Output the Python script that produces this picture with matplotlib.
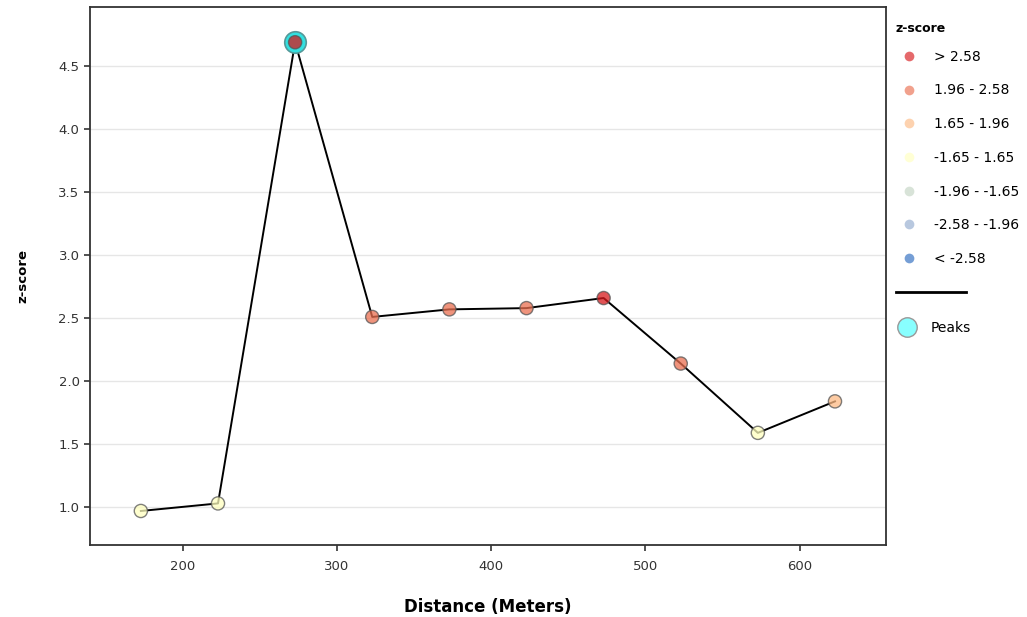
import matplotlib.pyplot as plt
from matplotlib.lines import Line2D

# distance along the transect and z-score at each step
DIST   = [173, 223, 273, 323, 373, 423, 473, 523, 573, 623]
ZSCORE = [0.97, 1.03, 4.69, 2.51, 2.57, 2.58, 2.66, 2.14, 1.59, 1.84]
PEAKS  = [273]

CLASS_LABELS = ["> 2.58", "1.96 - 2.58", "1.65 - 1.96", "-1.65 - 1.65",
                "-1.96 - -1.65", "-2.58 - -1.96", "< -2.58"]
CLASS_COLORS = ["#d7191c", "#ea6f50", "#fdba84", "#ffffbf",
                "#c4d4c4", "#92abcf", "#2c6bbf"]
CLASS_EDGES  = [2.58, 1.96, 1.65, -1.65, -1.96, -2.58]


def zclass(z):
    for i, edge in enumerate(CLASS_EDGES):
        if z > edge:
            return i
    return len(CLASS_EDGES)


fig = plt.figure(figsize=(10.27, 6.17), dpi=100)
ax = fig.add_axes([0.0876, 0.1167, 0.775, 0.872])

ax.plot(DIST, ZSCORE, color="black", lw=1.4, zorder=2)

peak_z = [z for d, z in zip(DIST, ZSCORE) if d in PEAKS]
ax.scatter(PEAKS, peak_z, s=240, color="#33e0e0", edgecolor="#559999",
           lw=1.2, zorder=3)

colors = [CLASS_COLORS[zclass(z)] for z in ZSCORE]
ax.scatter(DIST, ZSCORE, s=90, c=colors, edgecolor="#555555", lw=1.0,
           alpha=0.75, zorder=4)

ax.set_xlim(140, 656)
ax.set_ylim(0.70, 4.97)
ax.set_xticks([200, 300, 400, 500, 600])
ax.set_yticks([1.0, 1.5, 2.0, 2.5, 3.0, 3.5, 4.0, 4.5])
ax.yaxis.grid(True, color="#e6e6e6", lw=1.0, zorder=0)
ax.set_axisbelow(True)
for s in ax.spines.values():
    s.set_color("#333333")
    s.set_linewidth(1.3)
ax.tick_params(colors="#333333", labelsize=9.5, length=4, width=1.2)
ax.tick_params(axis="x", pad=7)

ax.set_xlabel("Distance (Meters)", fontsize=12, fontweight="bold", labelpad=18)
ax.set_ylabel("z-score", fontsize=9.5, fontweight="bold", labelpad=21)

# legend to the right of the plot
fig.text(895 / 1027, 1 - 28 / 617, "z-score", fontsize=9, fontweight="bold",
         va="center", ha="left")
handles = [Line2D([0], [0], marker="o", ls="", markersize=7,
                  markerfacecolor=c, markeredgecolor="none", alpha=0.65)
           for c in CLASS_COLORS]
ax.legend(handles, CLASS_LABELS, loc="upper left",
          bbox_to_anchor=(1.012, 0.931), frameon=False, fontsize=10,
          labelspacing=1.42, handletextpad=1.2, handlelength=1.2,
          borderaxespad=0.0)
ax.add_artist(ax.get_legend())

fig.add_artist(Line2D([896 / 1027, 966 / 1027], [1 - 292 / 617, 1 - 292 / 617],
                      color="black", lw=2))

peak_handle = Line2D([0], [0], marker="o", ls="", markersize=14,
                     markerfacecolor="#88ffff", markeredgecolor="#999999")
ax.legend([peak_handle], ["Peaks"], loc="upper left",
          bbox_to_anchor=(1.006, 0.426), frameon=False, fontsize=10,
          handletextpad=0.9, handlelength=1.6, borderaxespad=0.0)

fig.savefig("out.png", dpi=100)
